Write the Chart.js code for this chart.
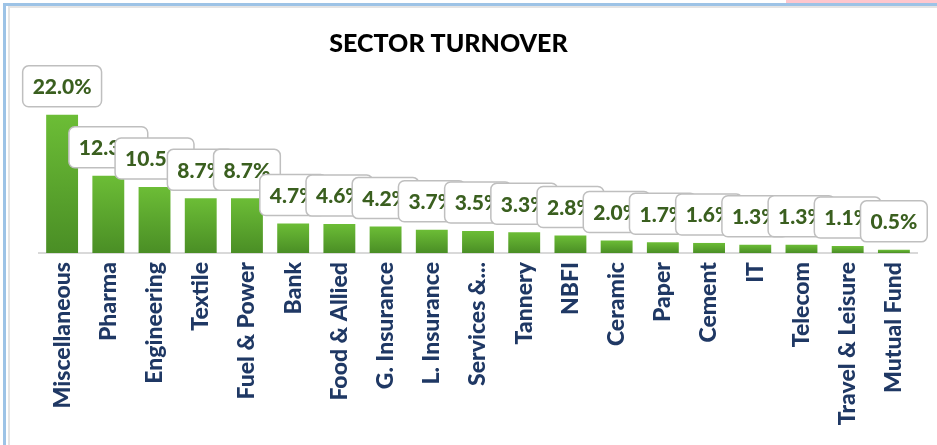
<!DOCTYPE html>
<html>
<head>
<meta charset="utf-8">
<script src="https://cdn.jsdelivr.net/npm/chart.js@4.4.1/dist/chart.umd.min.js"></script>
<style>
  html, body { margin: 0; padding: 0; background: #ffffff; }
  #wrap { position: relative; width: 937px; height: 445px; overflow: hidden; background: #ffffff; }
  #pink { position: absolute; left: 786px; top: 0; width: 151px; height: 3px; background: #ffc7ce; }
  #blueTop { position: absolute; left: 3px; top: 3px; width: 934px; height: 3px; background: #9dc3e6; }
  #blueLeft { position: absolute; left: 3px; top: 3px; width: 3px; height: 442px; background: #9dc3e6; }
  #grayTop { position: absolute; left: 8px; top: 6px; width: 929px; height: 2px; background: #e4e4e4; }
  #grayLeft { position: absolute; left: 8px; top: 6px; width: 2px; height: 439px; background: #e4e4e4; }
  canvas { position: absolute; left: 0; top: 0; }
</style>
</head>
<body>
<div id="wrap">
  <div id="pink"></div>
  <div id="blueTop"></div>
  <div id="blueLeft"></div>
  <div id="grayTop"></div>
  <div id="grayLeft"></div>
  <canvas id="c" width="937" height="445"></canvas>
</div>
<script>
const categories = ["Miscellaneous", "Pharma", "Engineering", "Textile", "Fuel & Power", "Bank",
  "Food & Allied", "G. Insurance", "L. Insurance", "Services &...", "Tannery", "NBFI",
  "Ceramic", "Paper", "Cement", "IT", "Telecom", "Travel & Leisure", "Mutual Fund"];
const turnover = [22.0, 12.3, 10.5, 8.7, 8.7, 4.7, 4.6, 4.2, 3.7, 3.5, 3.3, 2.8, 2.0, 1.7, 1.6, 1.3, 1.3, 1.1, 0.5];
const valueLabels = ["22.0%", "12.3%", "10.5%", "8.7%", "8.7%", "4.7%", "4.6%", "4.2%", "3.7%", "3.5%",
  "3.3%", "2.8%", "2.0%", "1.7%", "1.6%", "1.3%", "1.3%", "1.1%", "0.5%"];
const chartTitle = "SECTOR TURNOVER";

const FONT = "Lato, 'Noto Sans', sans-serif";

const labelBoxes = {
  id: 'labelBoxes',
  afterDatasetsDraw(chart) {
    const ctx = chart.ctx;
    const meta = chart.getDatasetMeta(0);
    ctx.save();
    ctx.font = "900 21px " + FONT;
    ctx.textAlign = 'center';
    ctx.textBaseline = 'middle';
    meta.data.forEach((bar, i) => {
      const text = valueLabels[i];
      const w = ctx.measureText(text).width + 20;
      const h = 41;
      const x = bar.x - w / 2;
      const yb = bar.y - 8;
      const yt = yb - h;
      ctx.beginPath();
      ctx.roundRect(x, yt, w, h, 6);
      ctx.fillStyle = '#ffffff';
      ctx.fill();
      ctx.lineWidth = 1.5;
      ctx.strokeStyle = '#bfbfbf';
      ctx.stroke();
      ctx.fillStyle = '#3a5f1f';
      ctx.fillText(text, bar.x, yt + h / 2 + 1);
    });
    ctx.restore();
  }
};

const titleShift = {
  id: 'titleShift',
  afterLayout(chart) {
    const t = chart.titleBlock;
    if (t) { t.left = 0; t.right = 897; t.width = 897; }
  }
};

new Chart(document.getElementById('c'), {
  type: 'bar',
  data: {
    labels: categories,
    datasets: [{
      data: turnover,
      barPercentage: 0.69,
      categoryPercentage: 1.0,
      borderWidth: 0,
      backgroundColor: (c) => {
        const chart = c.chart;
        if (!chart.chartArea || c.raw === undefined) return '#5aa82e';
        const ys = chart.scales.y;
        const top = ys.getPixelForValue(c.raw);
        const bot = ys.getPixelForValue(0);
        const g = chart.ctx.createLinearGradient(0, top, 0, bot);
        g.addColorStop(0, '#6cbd36');
        g.addColorStop(1, '#4a8e25');
        return g;
      }
    }]
  },
  options: {
    responsive: false,
    animation: false,
    devicePixelRatio: 1,
    layout: { padding: { left: 39, right: 20, top: 0, bottom: 0 } },
    plugins: {
      legend: { display: false },
      tooltip: { enabled: false },
      title: {
        display: true,
        text: chartTitle,
        color: '#000000',
        font: { family: FONT, size: 25, weight: '900', lineHeight: 1.2 },
        padding: { top: 29, bottom: 37 }
      }
    },
    scales: {
      x: {
        grid: { display: false, drawTicks: false },
        border: { display: true, color: '#d9d9d9', width: 2 },
        ticks: {
          autoSkip: false,
          minRotation: 90,
          maxRotation: 90,
          padding: 9,
          color: '#1f3864',
          font: { family: FONT, size: 23, weight: '900' }
        },
        afterFit(s) { s.height = 192; }
      },
      y: {
        display: false,
        min: 0,
        max: 25
      }
    }
  },
  plugins: [labelBoxes, titleShift]
});
</script>
</body>
</html>
